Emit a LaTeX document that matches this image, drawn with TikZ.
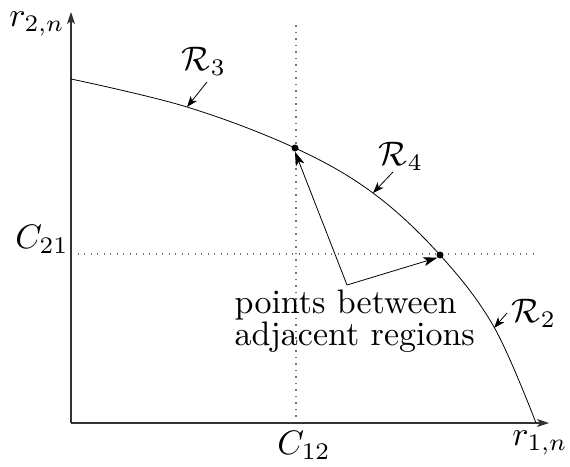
\documentclass[tikz,border=0pt]{standalone}
\usetikzlibrary{arrows.meta}
\begin{document}
\begin{tikzpicture}[x=1pt,y=-1pt,
  lbl/.style={inner sep=0pt,scale=3.4},
  axis/.style={line width=1.1pt,black!80,-{Stealth[length=12pt,width=8pt,inset=3pt]}},
  dotline/.style={black!55,line width=1.2pt,dash pattern=on 1.2pt off 5.3pt},
  ptr/.style={line width=0.8pt,-{Stealth[length=11pt,width=8pt,inset=3pt]}},
  bigptr/.style={line width=0.8pt,-{Stealth[length=14pt,width=9pt,inset=3.5pt]}},
  pt/.style={circle,fill=black,inner sep=0pt,minimum size=7pt}]
\useasboundingbox (0,0) rectangle (570,466);
% coordinates
\coordinate (O) at (71,423);
\coordinate (ytip) at (71,12);
\coordinate (xtip) at (549,423);
\coordinate (vtop) at (296,20);
\coordinate (vbot) at (296,423);
\coordinate (hl) at (71,254);
\coordinate (hr) at (536,254);
% dotted lines
\draw[dotline] (vbot) -- (vtop);
\draw[dotline] (hl) -- (hr);
% axes
\draw[axis] (O) -- (ytip);
\draw[axis] (O) -- (xtip);
% curve
\draw[line width=0.8pt] plot[smooth,tension=0.6] coordinates
  {(71,79) (187,107) (295,148) (373,193) (440,255) (494,327) (536,423)};
% points
\node[pt] (p1) at (295,148) {};
\node[pt] (p2) at (440,255) {};
% labels
\node[lbl] (ry) at (37,24) {$r_{2,n}$};
\node[lbl] (rx) at (540,443) {$r_{1,n}$};
\node[lbl] (c21) at (42,239) {$C_{21}$};
\node[lbl] (c12) at (304,445) {$C_{12}$};
\node[lbl] (R3) at (204,61) {$\mathcal{R}_3$};
\node[lbl] (R4) at (401,156) {$\mathcal{R}_4$};
\node[lbl] (R2) at (534,313) {$\mathcal{R}_2$};
\node[lbl,anchor=north west,align=left,font={\fontsize{10}{9.4}\selectfont}] (txt) at (234,289) {points between\\adjacent regions};
% small pointers
\coordinate (a3) at (207,82);  \coordinate (t3) at (187,107);
\coordinate (a4) at (393,172); \coordinate (t4) at (373,193);
\coordinate (a2) at (507,313); \coordinate (t2) at (494,328);
\draw[ptr] (a3) -- (t3);
\draw[ptr] (a4) -- (t4);
\draw[ptr] (a2) -- (t2);
% big pointers
\coordinate (src) at (347,285);
\draw[bigptr] (src) -- (p1.south);
\draw[bigptr] (src) -- (p2.south west);
\end{tikzpicture}
\end{document}
